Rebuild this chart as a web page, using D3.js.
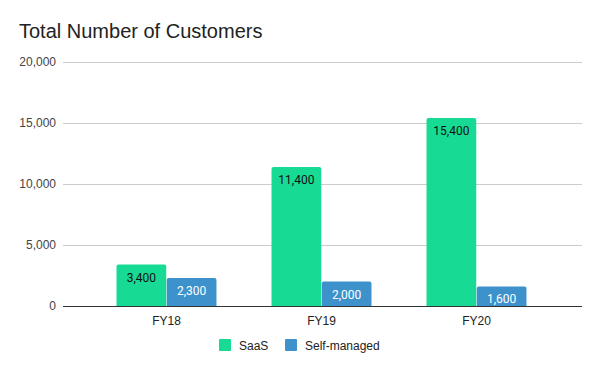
<!DOCTYPE html>
<head>
<meta charset="utf-8">
<script src="https://d3js.org/d3.v7.min.js"></script>
<style>
  body { margin: 0; background: #fff; }
  text { font-family: Arial, "Liberation Sans", sans-serif; }
  .barlabel { font-family: Roboto, Arial, sans-serif; }
</style>
</head>
<body>
<div id="chart"></div>
<script>

// data
var years = ["FY18", "FY19", "FY20"];
var seriesNames = ["SaaS", "Self-managed"];
var saas = [3400, 11400, 15400];
var selfManaged = [2300, 2000, 1600];
var yTicks = [0, 5000, 10000, 15000, 20000];

var colors = ["#17db94", "#3d92cc"];
var labelColors = ["#111", "#fff"];

var width = 600,
    height = 371;

var svg = d3.select("#chart")
    .append("svg")
    .attr("width", width)
    .attr("height", height);

// title
svg.append("text")
    .attr("x", 19)
    .attr("y", 38)
    .attr("font-size", 20)
    .attr("fill", "#222")
    .text("Total Number of Customers");

// scales
var y = d3.scaleLinear().domain([0, 20000]).range([306, 62]);

var x = d3.scaleBand()
    .domain(years)
    .range([89, 554])
    .paddingInner(0.355)
    .paddingOuter(0.1775);

var xs = d3.scaleBand()
    .domain(seriesNames)
    .range([0, x.bandwidth()])
    .paddingInner(0.01);

// gridlines
svg.append("g")
    .selectAll("line")
    .data(yTicks.filter(d => d > 0))
    .enter().append("line")
    .attr("x1", 63)
    .attr("x2", 582)
    .attr("y1", d => y(d) + 0.5)
    .attr("y2", d => y(d) + 0.5)
    .attr("stroke", "#ccc")
    .attr("stroke-width", 1);

// y axis labels
svg.append("g")
    .selectAll("text")
    .data(yTicks)
    .enter().append("text")
    .attr("x", 56)
    .attr("y", d => y(d) + 4)
    .attr("text-anchor", "end")
    .attr("font-size", 12)
    .attr("fill", "#444")
    .text(d => d3.format(",")(d));

// bars
var rows = years.map((yr, i) => ({ year: yr, values: [saas[i], selfManaged[i]] }));

var groups = svg.append("g")
    .selectAll("g")
    .data(rows)
    .enter().append("g")
    .attr("transform", d => "translate(" + x(d.year) + ",0)");

var bars = groups.selectAll("g")
    .data(d => d.values.map((v, j) => ({ name: seriesNames[j], value: v, j: j })))
    .enter().append("g");

// rounded top corners only
bars.append("path")
    .attr("fill", d => colors[d.j])
    .attr("d", function(d) {
        var x0 = xs(d.name), w = xs.bandwidth(), y0 = y(d.value), y1 = y(0), r = 2;
        return "M" + x0 + "," + y1 +
            "V" + (y0 + r) +
            "Q" + x0 + "," + y0 + " " + (x0 + r) + "," + y0 +
            "H" + (x0 + w - r) +
            "Q" + (x0 + w) + "," + y0 + " " + (x0 + w) + "," + (y0 + r) +
            "V" + y1 + "Z";
    });

bars.append("text")
    .attr("class", "barlabel")
    .attr("x", d => xs(d.name) + xs.bandwidth() / 2)
    .attr("y", d => y(d.value) + 17)
    .attr("text-anchor", "middle")
    .attr("font-size", 12)
    .attr("fill", d => labelColors[d.j])
    .text(d => d3.format(",")(d.value));

// baseline
svg.append("line")
    .attr("x1", 63)
    .attr("x2", 582)
    .attr("y1", y(0) + 0.5)
    .attr("y2", y(0) + 0.5)
    .attr("stroke", "#333")
    .attr("stroke-width", 1);

// x labels
svg.append("g")
    .selectAll("text")
    .data(years)
    .enter().append("text")
    .attr("x", d => x(d) + x.bandwidth() / 2)
    .attr("y", 325)
    .attr("text-anchor", "middle")
    .attr("font-size", 12)
    .attr("fill", "#222")
    .text(d => d);

// legend
var legendX = [219, 285];
var legend = svg.append("g")
    .selectAll("g")
    .data(seriesNames)
    .enter().append("g")
    .attr("transform", (d, i) => "translate(" + legendX[i] + ",339)");

legend.append("rect")
    .attr("width", 12)
    .attr("height", 12)
    .attr("rx", 1)
    .attr("fill", (d, i) => colors[i]);

legend.append("text")
    .attr("x", 20)
    .attr("y", 10.5)
    .attr("font-size", 12)
    .attr("fill", "#222")
    .text(d => d);

</script>
</body>
